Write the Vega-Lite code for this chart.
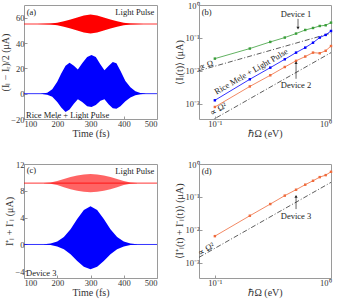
{
  "$schema": "https://vega.github.io/schema/vega-lite/v6.json",
  "autosize": {"type": "pad"},
  "padding": {"left": 0, "top": 0, "right": 2, "bottom": 2},
  "bounds": "flush",
  "columns": 2,
  "spacing": {"row": 45, "column": 42},
  "config": {
    "font": "Liberation Serif",
    "view": {"stroke": "#9a9a9a", "strokeWidth": 1},
    "axis": {"grid": false, "domain": false, "tickColor": "#9a9a9a", "tickSize": -3, "labelPadding": 3, "labelFont": "Liberation Serif", "labelFontSize": 8.5, "labelColor": "#333333", "titleFont": "Liberation Serif", "titleFontSize": 10, "titleFontWeight": "normal", "titleColor": "#333333", "titlePadding": 0},
    "text": {"font": "Liberation Serif", "fontSize": 8.5, "color": "#222222"}
  },
  "concat": [
    {
      "width": 133, "height": 114,
      "encoding": {
        "x": {"field": "t", "type": "quantitative", "scale": {"domain": [100, 500], "nice": false}, "axis": {"values": [100, 200, 300, 400, 500], "title": "Time (fs)", "titlePadding": 1}},
        "y": {"field": "lo", "type": "quantitative", "scale": {"domain": [-20, 70], "nice": false}, "axis": {"values": [-20, 0, 20, 40, 60], "title": "(Iₗ − Iᵣ)/2 (μA)"}}
      },
      "layer": [
        {"data": {"values": [
          {"t": 140, "lo": 55, "hi": 55}, {"t": 160, "lo": 54.85, "hi": 55.15}, {"t": 180, "lo": 54.6, "hi": 55.4}, {"t": 200, "lo": 54.0, "hi": 56.0}, {"t": 220, "lo": 52.9, "hi": 57.1}, {"t": 240, "lo": 51.5, "hi": 58.5}, {"t": 260, "lo": 49.9, "hi": 60.1}, {"t": 280, "lo": 48.3, "hi": 61.7}, {"t": 300, "lo": 47.5, "hi": 62.5}, {"t": 320, "lo": 48.3, "hi": 61.7}, {"t": 340, "lo": 49.9, "hi": 60.1}, {"t": 360, "lo": 51.5, "hi": 58.5}, {"t": 380, "lo": 52.9, "hi": 57.1}, {"t": 400, "lo": 54.0, "hi": 56.0}, {"t": 420, "lo": 54.6, "hi": 55.4}, {"t": 440, "lo": 54.85, "hi": 55.15}, {"t": 460, "lo": 55, "hi": 55}
        ]}, "mark": {"type": "area", "color": "#ff0000", "opacity": 1}, "encoding": {"y2": {"field": "hi"}}},
        {"data": {"values": [{"t": 100, "lo": 55}, {"t": 500, "lo": 55}]}, "mark": {"type": "line", "color": "#ff0000", "strokeWidth": 0.8}, "encoding": {}},
        {"data": {"values": [
          {"t": 150, "lo": 0, "hi": 0}, {"t": 170, "lo": -0.8, "hi": 0.8}, {"t": 185, "lo": -2.5, "hi": 3.5}, {"t": 200, "lo": -6.5, "hi": 9.5}, {"t": 212, "lo": -11, "hi": 16}, {"t": 225, "lo": -14.5, "hi": 22}, {"t": 237, "lo": -12.5, "hi": 24.5}, {"t": 250, "lo": -8, "hi": 22}, {"t": 262, "lo": -4.5, "hi": 19}, {"t": 275, "lo": -6.5, "hi": 24}, {"t": 290, "lo": -10, "hi": 29}, {"t": 303, "lo": -10.5, "hi": 30.5}, {"t": 316, "lo": -9, "hi": 29}, {"t": 330, "lo": -5.5, "hi": 23}, {"t": 342, "lo": -4.5, "hi": 18.5}, {"t": 355, "lo": -8.5, "hi": 22}, {"t": 367, "lo": -11.5, "hi": 25}, {"t": 378, "lo": -12, "hi": 24}, {"t": 390, "lo": -10, "hi": 18}, {"t": 405, "lo": -6, "hi": 10}, {"t": 420, "lo": -3, "hi": 5}, {"t": 435, "lo": -1.2, "hi": 2}, {"t": 450, "lo": -0.4, "hi": 0.6}, {"t": 465, "lo": 0, "hi": 0.1}
        ]}, "mark": {"type": "area", "color": "#0000ff", "opacity": 1}, "encoding": {"y2": {"field": "hi"}}},
        {"data": {"values": [{"t": 100, "lo": 0}, {"t": 500, "lo": 0}]}, "mark": {"type": "line", "color": "#0000ff", "strokeWidth": 0.8}, "encoding": {}},
        {"data": {"values": [{"t": 108, "lo": 64.5, "label": "(a)"}, {"t": 106, "lo": -16.5, "label": "Rice Mele + Light Pulse"}]}, "mark": {"type": "text", "align": "left", "baseline": "middle"}, "encoding": {"text": {"field": "label"}}},
        {"data": {"values": [{"t": 492, "lo": 64.5, "label": "Light Pulse"}]}, "mark": {"type": "text", "align": "right", "baseline": "middle"}, "encoding": {"text": {"field": "label"}}}
      ]
    },
    {
      "width": 132, "height": 114,
      "encoding": {
        "x": {"field": "w", "type": "quantitative", "scale": {"type": "log", "domain": [0.073, 1], "nice": false}, "axis": {"values": [0.1, 1], "labelExpr": "datum.value >= 0.99 ? '10⁰' : '10⁻¹'", "title": "ℏΩ (eV)", "titlePadding": 1}},
        "y": {"field": "v", "type": "quantitative", "scale": {"type": "log", "domain": [0.00035, 1], "nice": false}, "axis": {"values": [0.001, 0.01, 0.1, 1], "labelExpr": "datum.value >= 0.99 ? '10⁰' : datum.value >= 0.099 ? '10⁻¹' : datum.value >= 0.0099 ? '10⁻²' : '10⁻³'", "title": "⟨Iₗ(t)⟩ (μA)"}}
      },
      "layer": [
        {"data": {"values": [{"w": 0.073, "v": 0.0102}, {"w": 1, "v": 0.14}]}, "mark": {"type": "line", "color": "#333333", "strokeWidth": 0.8, "strokeDash": [5, 2, 1, 2], "clip": true}, "encoding": {}},
        {"data": {"values": [{"w": 0.073, "v": 0.000192}, {"w": 1, "v": 0.036}]}, "mark": {"type": "line", "color": "#333333", "strokeWidth": 0.8, "strokeDash": [5, 2, 1, 2], "clip": true}, "encoding": {}},
        {"data": {"values": [{"w": 0.1, "v": 0.0237}, {"w": 0.2, "v": 0.0478}, {"w": 0.3, "v": 0.076}, {"w": 0.4, "v": 0.103}, {"w": 0.5, "v": 0.136}, {"w": 0.6, "v": 0.175}, {"w": 0.7, "v": 0.201}, {"w": 0.8, "v": 0.231}, {"w": 0.9, "v": 0.243}, {"w": 1.0, "v": 0.292}]}, "mark": {"type": "line", "color": "#3a9e3a", "strokeWidth": 0.8, "point": {"shape": "square", "size": 6, "filled": true, "color": "#3a9e3a"}}, "encoding": {}},
        {"data": {"values": [{"w": 0.1, "v": 0.00129}, {"w": 0.2, "v": 0.0056}, {"w": 0.3, "v": 0.0126}, {"w": 0.4, "v": 0.0226}, {"w": 0.5, "v": 0.036}, {"w": 0.6, "v": 0.051}, {"w": 0.7, "v": 0.072}, {"w": 0.8, "v": 0.103}, {"w": 0.9, "v": 0.124}, {"w": 1.0, "v": 0.163}]}, "mark": {"type": "line", "color": "#0000ff", "strokeWidth": 0.8, "point": {"shape": "square", "size": 6, "filled": true, "color": "#0000ff"}}, "encoding": {}},
        {"data": {"values": [{"w": 0.1, "v": 0.00081}, {"w": 0.2, "v": 0.0034}, {"w": 0.3, "v": 0.0074}, {"w": 0.4, "v": 0.0132}, {"w": 0.5, "v": 0.0203}, {"w": 0.6, "v": 0.0274}, {"w": 0.7, "v": 0.036}, {"w": 0.8, "v": 0.0345}, {"w": 0.9, "v": 0.041}, {"w": 1.0, "v": 0.057}]}, "mark": {"type": "line", "color": "#ef6b3c", "strokeWidth": 0.8, "point": {"shape": "square", "size": 6, "filled": true, "color": "#ef6b3c"}}, "encoding": {}},
        {"data": {"values": [{"w": 0.52, "v": 0.38, "v2": 0.2}, {"w": 0.5, "v": 0.0058, "v2": 0.018}]}, "mark": {"type": "rule", "color": "#222222", "strokeWidth": 0.7}, "encoding": {"y2": {"field": "v2"}}},
        {"data": {"values": [{"w": 0.52, "v": 0.2}]}, "mark": {"type": "point", "shape": "triangle-down", "size": 10, "filled": true, "color": "#222222", "opacity": 1}, "encoding": {}},
        {"data": {"values": [{"w": 0.5, "v": 0.018}]}, "mark": {"type": "point", "shape": "triangle-up", "size": 10, "filled": true, "color": "#222222", "opacity": 1}, "encoding": {}},
        {"data": {"values": [{"w": 0.5, "v": 0.52, "label": "Device 1"}, {"w": 0.5, "v": 0.0037, "label": "Device 2"}]}, "mark": {"type": "text", "align": "center", "baseline": "middle"}, "encoding": {"text": {"field": "label"}}},
        {"data": {"values": [{"w": 0.077, "v": 0.6, "label": "(b)"}]}, "mark": {"type": "text", "align": "left", "baseline": "middle"}, "encoding": {"text": {"field": "label"}}},
        {"data": {"values": [{"w": 0.205, "v": 0.0098, "label": "Rice Mele + Light Pulse"}]}, "mark": {"type": "text", "align": "center", "baseline": "middle", "angle": 330}, "encoding": {"text": {"field": "label"}}},
        {"data": {"values": [{"w": 0.084, "v": 0.0155, "label": "∝ Ω"}]}, "mark": {"type": "text", "align": "center", "baseline": "middle", "angle": 344}, "encoding": {"text": {"field": "label"}}},
        {"data": {"values": [{"w": 0.107, "v": 0.00072, "label": "∝ Ω²"}]}, "mark": {"type": "text", "align": "center", "baseline": "middle", "angle": 330}, "encoding": {"text": {"field": "label"}}}
      ]
    },
    {
      "width": 133, "height": 114,
      "encoding": {
        "x": {"field": "t", "type": "quantitative", "scale": {"domain": [100, 500], "nice": false}, "axis": {"values": [100, 200, 300, 400, 500], "title": "Time (fs)", "titlePadding": 1}},
        "y": {"field": "lo", "type": "quantitative", "scale": {"domain": [-5, 12], "nice": false}, "axis": {"values": [-4, 0, 4, 8, 12], "title": "I⁺ₗ + I⁻ₗ (μA)"}}
      },
      "layer": [
        {"data": {"values": [
          {"t": 160, "lo": 9.13, "hi": 9.17}, {"t": 180, "lo": 9.05, "hi": 9.25}, {"t": 200, "lo": 8.85, "hi": 9.45}, {"t": 220, "lo": 8.55, "hi": 9.75}, {"t": 240, "lo": 8.25, "hi": 10.05}, {"t": 260, "lo": 8.0, "hi": 10.3}, {"t": 280, "lo": 7.85, "hi": 10.45}, {"t": 300, "lo": 7.8, "hi": 10.5}, {"t": 320, "lo": 7.85, "hi": 10.45}, {"t": 340, "lo": 8.0, "hi": 10.3}, {"t": 360, "lo": 8.25, "hi": 10.05}, {"t": 380, "lo": 8.55, "hi": 9.75}, {"t": 400, "lo": 8.85, "hi": 9.45}, {"t": 420, "lo": 9.05, "hi": 9.25}, {"t": 440, "lo": 9.13, "hi": 9.17}
        ]}, "mark": {"type": "area", "color": "#ff3030", "opacity": 0.75}, "encoding": {"y2": {"field": "hi"}}},
        {"data": {"values": [{"t": 100, "lo": 9.15}, {"t": 500, "lo": 9.15}]}, "mark": {"type": "line", "color": "#ff0000", "strokeWidth": 0.8}, "encoding": {}},
        {"data": {"values": [
          {"t": 160, "lo": -0.02, "hi": 0.04}, {"t": 180, "lo": -0.09, "hi": 0.14}, {"t": 200, "lo": -0.29, "hi": 0.44}, {"t": 220, "lo": -0.72, "hi": 1.1}, {"t": 240, "lo": -1.47, "hi": 2.26}, {"t": 260, "lo": -2.46, "hi": 3.78}, {"t": 280, "lo": -3.34, "hi": 5.15}, {"t": 300, "lo": -3.7, "hi": 5.7}, {"t": 320, "lo": -3.34, "hi": 5.15}, {"t": 340, "lo": -2.46, "hi": 3.78}, {"t": 360, "lo": -1.47, "hi": 2.26}, {"t": 380, "lo": -0.72, "hi": 1.1}, {"t": 400, "lo": -0.29, "hi": 0.44}, {"t": 420, "lo": -0.09, "hi": 0.14}, {"t": 440, "lo": -0.02, "hi": 0.04}
        ]}, "mark": {"type": "area", "color": "#0000ff", "opacity": 1}, "encoding": {"y2": {"field": "hi"}}},
        {"data": {"values": [{"t": 100, "lo": 0}, {"t": 500, "lo": 0}]}, "mark": {"type": "line", "color": "#0000ff", "strokeWidth": 0.8}, "encoding": {}},
        {"data": {"values": [{"t": 108, "lo": 11.1, "label": "(c)"}, {"t": 106, "lo": -4.2, "label": "Device 3"}]}, "mark": {"type": "text", "align": "left", "baseline": "middle"}, "encoding": {"text": {"field": "label"}}},
        {"data": {"values": [{"t": 492, "lo": 11.0, "label": "Light Pulse"}]}, "mark": {"type": "text", "align": "right", "baseline": "middle"}, "encoding": {"text": {"field": "label"}}}
      ]
    },
    {
      "width": 132, "height": 114,
      "encoding": {
        "x": {"field": "w", "type": "quantitative", "scale": {"type": "log", "domain": [0.073, 1], "nice": false}, "axis": {"values": [0.1, 1], "labelExpr": "datum.value >= 0.99 ? '10⁰' : '10⁻¹'", "title": "ℏΩ (eV)", "titlePadding": 1}},
        "y": {"field": "v", "type": "quantitative", "scale": {"type": "log", "domain": [0.00035, 1], "nice": false}, "axis": {"values": [0.001, 0.01, 0.1, 1], "labelExpr": "datum.value >= 0.99 ? '10⁰' : datum.value >= 0.099 ? '10⁻¹' : datum.value >= 0.0099 ? '10⁻²' : '10⁻³'", "title": "⟨I⁺ₗ(t) + I⁻ₗ(t)⟩ (μA)"}}
      },
      "layer": [
        {"data": {"values": [{"w": 0.073, "v": 0.00148}, {"w": 1, "v": 0.278}]}, "mark": {"type": "line", "color": "#333333", "strokeWidth": 0.8, "strokeDash": [5, 2, 1, 2], "clip": true}, "encoding": {}},
        {"data": {"values": [{"w": 0.1, "v": 0.0065}, {"w": 0.2, "v": 0.027}, {"w": 0.3, "v": 0.061}, {"w": 0.4, "v": 0.11}, {"w": 0.5, "v": 0.166}, {"w": 0.6, "v": 0.236}, {"w": 0.7, "v": 0.31}, {"w": 0.8, "v": 0.40}, {"w": 0.9, "v": 0.46}, {"w": 1.0, "v": 0.58}]}, "mark": {"type": "line", "color": "#ef6b3c", "strokeWidth": 0.8, "point": {"shape": "square", "size": 6, "filled": true, "color": "#ef6b3c"}}, "encoding": {}},
        {"data": {"values": [{"w": 0.5, "v": 0.043, "v2": 0.105}]}, "mark": {"type": "rule", "color": "#222222", "strokeWidth": 0.7}, "encoding": {"y2": {"field": "v2"}}},
        {"data": {"values": [{"w": 0.5, "v": 0.105}]}, "mark": {"type": "point", "shape": "triangle-up", "size": 10, "filled": true, "color": "#222222", "opacity": 1}, "encoding": {}},
        {"data": {"values": [{"w": 0.5, "v": 0.027, "label": "Device 3"}]}, "mark": {"type": "text", "align": "center", "baseline": "middle"}, "encoding": {"text": {"field": "label"}}},
        {"data": {"values": [{"w": 0.077, "v": 0.6, "label": "(d)"}]}, "mark": {"type": "text", "align": "left", "baseline": "middle"}, "encoding": {"text": {"field": "label"}}},
        {"data": {"values": [{"w": 0.084, "v": 0.0027, "label": "∝ Ω²"}]}, "mark": {"type": "text", "align": "center", "baseline": "middle", "angle": 330}, "encoding": {"text": {"field": "label"}}}
      ]
    }
  ]
}
